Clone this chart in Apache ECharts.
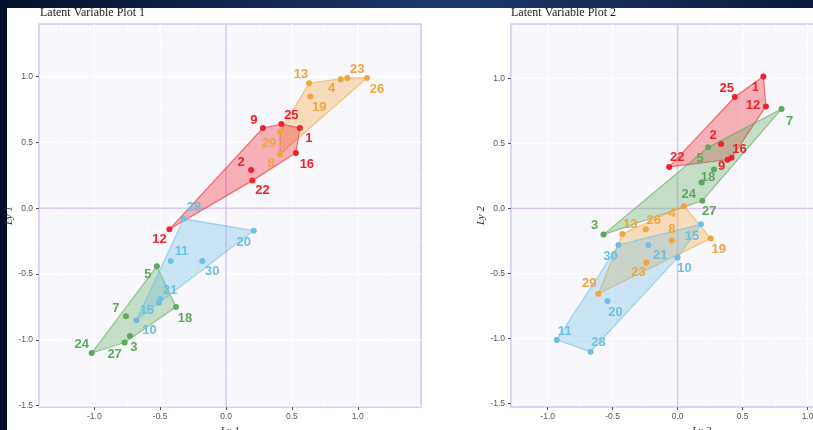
<!DOCTYPE html>
<html><head><meta charset="utf-8">
<script src="https://cdn.jsdelivr.net/npm/echarts@6/dist/echarts.min.js"></script>
<style>
html,body{margin:0;padding:0;width:813px;height:430px;overflow:hidden;
background:linear-gradient(90deg,#06102a 0%,#112650 30%,#1c3b6c 55%,#0b1a3c 100%);}
#sheet{position:absolute;left:7px;top:8px;width:806px;height:422px;background:#fff;}
#chart{position:absolute;left:0;top:0;width:813px;height:430px;}
</style></head><body><div id="sheet"></div><div id="chart"></div>
<script>
// ---------- DATA ----------
// Plot 1
const p1RedIds = ['1','2','9','12','16','22','25'];
const p1RedX   = [0.56, 0.19, 0.28, -0.43, 0.53, 0.20, 0.42];
const p1RedY   = [0.61, 0.29, 0.61, -0.16, 0.42, 0.21, 0.64];
const p1OrangeIds = ['4','8','13','19','23','26','29'];
const p1OrangeX   = [0.87, 0.41, 0.63, 0.64, 0.92, 1.07, 0.41];
const p1OrangeY   = [0.98, 0.41, 0.95, 0.85, 0.99, 0.99, 0.58];
const p1GreenIds = ['3','5','7','18','24','27'];
const p1GreenX   = [-0.73, -0.525, -0.76, -0.38, -1.02, -0.77];
const p1GreenY   = [-0.97, -0.44, -0.82, -0.75, -1.10, -1.02];
const p1BlueIds = ['10','11','15','20','21','28','30'];
const p1BlueX   = [-0.68, -0.42, -0.51, 0.21, -0.50, -0.32, -0.18];
const p1BlueY   = [-0.85, -0.40, -0.72, -0.17, -0.69, -0.08, -0.40];
// Plot 2
const p2RedIds = ['1','2','9','12','16','22','25'];
const p2RedX   = [0.66, 0.335, 0.385, 0.68, 0.415, -0.065, 0.44];
const p2RedY   = [1.015, 0.495, 0.375, 0.785, 0.39, 0.32, 0.857];
const p2OrangeIds = ['4','8','13','19','23','26','29'];
const p2OrangeX   = [0.05, -0.045, -0.425, 0.255, -0.24, -0.245, -0.61];
const p2OrangeY   = [0.02, -0.245, -0.195, -0.23, -0.415, -0.16, -0.655];
const p2GreenIds = ['3','5','7','18','24','27'];
const p2GreenX   = [-0.57, 0.235, 0.80, 0.28, 0.185, 0.19];
const p2GreenY   = [-0.20, 0.47, 0.765, 0.30, 0.20, 0.06];
const p2BlueIds = ['10','11','15','20','21','28','30'];
const p2BlueX   = [0.0, -0.93, 0.18, -0.54, -0.225, -0.67, -0.455];
const p2BlueY   = [-0.377, -1.01, -0.12, -0.71, -0.28, -1.10, -0.28];
// Ticks
const xTicks = [-1, -0.5, 0, 0.5, 1, 1.5];
const yTicks = [-1.5, -1, -0.5, 0, 0.5, 1];
const minorTicks = [-1.25, -0.75, -0.25, 0.25, 0.75, 1.25];
const titles = ['Latent Variable Plot 1', 'Latent Variable Plot 2'];
const xNames = ['Lx 1', 'Lx 2'];
const yNames = ['Ly 1', 'Ly 2'];

// ---------- LAYOUT / STYLE ----------
const COLORS = {red:'#F1212C', orange:'#F3A43A', green:'#5CA95C', blue:'#6CC0E2'};
const labelOff1 = {
 '13':[-8,-9],'4':[-9,9],'23':[10,-9],'26':[10,11],'19':[9,11],'29':[-11,11],'8':[-9,9],
 '9':[-9,-8],'25':[10,-9],'1':[9,10],'16':[11,11],'2':[-10,-8],'22':[10,10],'12':[-10,10],
 '28':[10,-11],'20':[-10,12],'11':[11,-9],'30':[10,11],'21':[10,-9],'15':[-12,7],'10':[13,10],
 '5':[-9,8],'7':[-10,-8],'18':[9,11],'24':[-10,-9],'27':[-10,12],'3':[4,11]
};
const labelOff2 = {
 '25':[-8,-9],'1':[-8,11],'12':[-13,-1],'7':[8,12],'2':[-8,-9],'16':[8,-8],'5':[-8,11],'9':[-6,7],'22':[8,-9],
 '18':[-6,8],'24':[-13,12],'27':[7,11],'3':[-9,-9],'13':[8,-9],'26':[8,-9],'4':[-12,7],'8':[0,-11],
 '15':[-9,12],'19':[8,11],'30':[-8,11],'21':[12,10],'10':[7,11],'23':[-8,10],'29':[-9,-10],'20':[8,11],'11':[8,-9],'28':[8,-9]
};

function hexA(hex, a){
  const n = parseInt(hex.slice(1),16);
  return 'rgba('+((n>>16)&255)+','+((n>>8)&255)+','+(n&255)+','+a+')';
}
function convexHull(pts){
  const p = pts.slice().sort((a,b)=>a[0]-b[0]||a[1]-b[1]);
  const cross=(o,a,b)=>(a[0]-o[0])*(b[1]-o[1])-(a[1]-o[1])*(b[0]-o[0]);
  const lower=[],upper=[];
  for(const q of p){while(lower.length>=2&&cross(lower[lower.length-2],lower[lower.length-1],q)<=0)lower.pop();lower.push(q);}
  for(let i=p.length-1;i>=0;i--){const q=p[i];while(upper.length>=2&&cross(upper[upper.length-2],upper[upper.length-1],q)<=0)upper.pop();upper.push(q);}
  upper.pop();lower.pop();return lower.concat(upper);
}

const series = [];
function gridLinesSeries(gi){
  series.push({
    type:'custom', xAxisIndex:gi, yAxisIndex:gi, z:1, silent:true, clip:true,
    data:[[0,0]],
    renderItem:function(params, api){
      const cs = params.coordSys; const ch=[];
      const vline=(v,c,w)=>{const p=api.coord([v,0]);ch.push({type:'line',shape:{x1:p[0],y1:cs.y,x2:p[0],y2:cs.y+cs.height},style:{stroke:c,lineWidth:w}});};
      const hline=(v,c,w)=>{const p=api.coord([0,v]);ch.push({type:'line',shape:{x1:cs.x,y1:p[1],x2:cs.x+cs.width,y2:p[1]},style:{stroke:c,lineWidth:w}});};
      minorTicks.forEach(v=>{vline(v,'#ffffff',0.6);hline(v,'#ffffff',0.6);});
      xTicks.forEach(v=>vline(v,'#ffffff',1.2));
      yTicks.forEach(v=>hline(v,'#ffffff',1.2));
      vline(0,'#ddc8ef',1.6); hline(0,'#ddc8ef',1.6);
      return {type:'group',children:ch};
    }
  });
}
function addGroup(gi, ids, xs, ys, color, offs){
  const pts = ids.map((id,i)=>[xs[i],ys[i]]);
  series.push({
    type:'custom', xAxisIndex:gi, yAxisIndex:gi, z:2, silent:true,
    data: pts,
    renderItem:function(params, api){
      if(params.dataIndex!==0) return null;
      const h = convexHull(pts).map(p=>api.coord(p));
      return {type:'polygon', shape:{points:h}, style:{fill:hexA(color,0.33), stroke:hexA(color,0.6), lineWidth:1.2}};
    }
  });
  series.push({
    type:'scatter', xAxisIndex:gi, yAxisIndex:gi, z:3, symbolSize:6,
    itemStyle:{color:color, opacity:1},
    data: ids.map((id,i)=>({name:id, value:[xs[i],ys[i]], label:{offset:offs[id]||[0,0]}})),
    label:{show:true, position:'inside', formatter:'{b}', color:color, fontSize:13, fontWeight:'bold',
           fontFamily:'"Liberation Sans", Arial, sans-serif'}
  });
}
gridLinesSeries(0); gridLinesSeries(1);
addGroup(0,p1OrangeIds,p1OrangeX,p1OrangeY,COLORS.orange,labelOff1);
addGroup(0,p1RedIds,p1RedX,p1RedY,COLORS.red,labelOff1);
addGroup(0,p1GreenIds,p1GreenX,p1GreenY,COLORS.green,labelOff1);
addGroup(0,p1BlueIds,p1BlueX,p1BlueY,COLORS.blue,labelOff1);
addGroup(1,p2RedIds,p2RedX,p2RedY,COLORS.red,labelOff2);
addGroup(1,p2GreenIds,p2GreenX,p2GreenY,COLORS.green,labelOff2);
addGroup(1,p2OrangeIds,p2OrangeX,p2OrangeY,COLORS.orange,labelOff2);
addGroup(1,p2BlueIds,p2BlueX,p2BlueY,COLORS.blue,labelOff2);

function xAxisDef(gi,min,max){
  return {gridIndex:gi, type:'value', min:min, max:max,
    axisLine:{show:false,onZero:false}, splitLine:{show:false},
    axisTick:{show:true,length:3,customValues:xTicks,lineStyle:{color:'#555',width:1}},
    axisLabel:{customValues:xTicks,formatter:v=>v.toFixed(1),fontSize:8.5,color:'#555',margin:5,
      fontFamily:'"Liberation Sans", Arial, sans-serif'},
    name:xNames[gi], nameLocation:'middle', nameGap:17,
    nameTextStyle:{fontFamily:'"Liberation Serif", serif',fontStyle:'italic',fontSize:11,color:'#333'}};
}
function yAxisDef(gi,min,max,gap){
  return {gridIndex:gi, type:'value', min:min, max:max,
    axisLine:{show:false,onZero:false}, splitLine:{show:false},
    axisTick:{show:true,length:3,customValues:yTicks,lineStyle:{color:'#555',width:1}},
    axisLabel:{customValues:yTicks,formatter:v=>v.toFixed(1),fontSize:8.5,color:'#555',margin:6,
      fontFamily:'"Liberation Sans", Arial, sans-serif'},
    name:yNames[gi], nameLocation:'middle', nameGap:gap, nameRotate:90,
    nameTextStyle:{fontFamily:'"Liberation Serif", serif',fontStyle:'italic',fontSize:11,color:'#333'}};
}

const chart = echarts.init(document.getElementById('chart'), null, {renderer:'canvas'});
chart.setOption({
  animation:false,
  backgroundColor:'transparent',
  grid:[
    {left:39, top:24, width:382, height:383, show:true, backgroundColor:'#f8f7fc', borderColor:'#d9c2ec', borderWidth:1.5, containLabel:false, outerBoundsMode:'none'},
    {left:511, top:24, width:381, height:383, show:true, backgroundColor:'#f8f7fc', borderColor:'#d9c2ec', borderWidth:1.5, containLabel:false, outerBoundsMode:'none'}
  ],
  xAxis:[xAxisDef(0,-1.42,1.48), xAxisDef(1,-1.282,1.65)],
  yAxis:[yAxisDef(0,-1.51,1.40,23), yAxisDef(1,-1.525,1.418,23)],
  graphic:[
    {type:'text', x:40, y:12.5, style:{text:titles[0], font:'12px "Liberation Serif", serif', fill:'#1a1a1a', verticalAlign:'middle'}},
    {type:'text', x:511, y:12.5, style:{text:titles[1], font:'12px "Liberation Serif", serif', fill:'#1a1a1a', verticalAlign:'middle'}}
  ],
  series:series
});
</script></body></html>
